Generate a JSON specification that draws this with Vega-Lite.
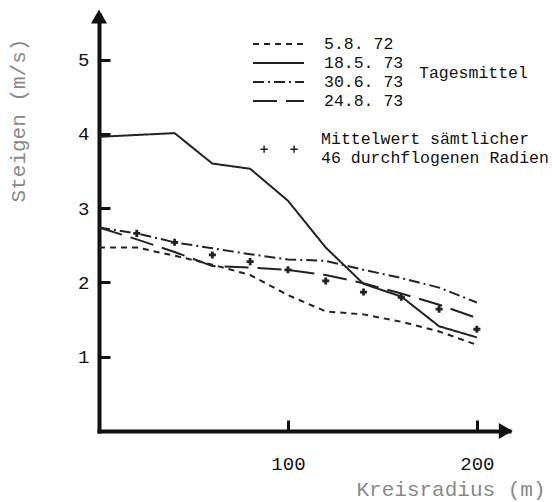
{
  "$schema": "https://vega.github.io/schema/vega-lite/v6.json",
  "width": 410,
  "height": 416,
  "autosize": "none",
  "padding": {"left": 99, "top": 15, "right": 43, "bottom": 71},
  "background": "white",
  "config": {
    "view": {"stroke": null},
    "font": "Liberation Mono",
    "axis": {
      "grid": false,
      "domainColor": "#111",
      "domainWidth": 4,
      "domainCap": "square",
      "tickColor": "#111",
      "tickWidth": 3,
      "labelFont": "Liberation Mono",
      "labelFontSize": 19,
      "labelColor": "#111",
      "titleFont": "Liberation Mono",
      "titleFontSize": 21,
      "titleColor": "#888",
      "titleFontWeight": "normal"
    },
    "legend": {
      "labelFont": "Liberation Mono",
      "titleFont": "Liberation Mono"
    }
  },
  "datasets": {
    "lines": [
      {"series": "5.8. 72", "r": 0, "v": 2.47},
      {"series": "5.8. 72", "r": 20, "v": 2.47},
      {"series": "5.8. 72", "r": 40, "v": 2.36},
      {"series": "5.8. 72", "r": 60, "v": 2.24},
      {"series": "5.8. 72", "r": 80, "v": 2.1},
      {"series": "5.8. 72", "r": 100, "v": 1.83},
      {"series": "5.8. 72", "r": 120, "v": 1.61},
      {"series": "5.8. 72", "r": 140, "v": 1.57},
      {"series": "5.8. 72", "r": 160, "v": 1.47},
      {"series": "5.8. 72", "r": 180, "v": 1.34},
      {"series": "5.8. 72", "r": 200, "v": 1.16},
      {"series": "18.5. 73", "r": 0, "v": 3.96},
      {"series": "18.5. 73", "r": 40, "v": 4.01},
      {"series": "18.5. 73", "r": 60, "v": 3.6},
      {"series": "18.5. 73", "r": 80, "v": 3.53},
      {"series": "18.5. 73", "r": 100, "v": 3.1},
      {"series": "18.5. 73", "r": 120, "v": 2.47},
      {"series": "18.5. 73", "r": 140, "v": 1.98},
      {"series": "18.5. 73", "r": 160, "v": 1.81},
      {"series": "18.5. 73", "r": 180, "v": 1.41},
      {"series": "18.5. 73", "r": 200, "v": 1.26},
      {"series": "30.6. 73", "r": 0, "v": 2.74},
      {"series": "30.6. 73", "r": 20, "v": 2.66},
      {"series": "30.6. 73", "r": 40, "v": 2.54},
      {"series": "30.6. 73", "r": 60, "v": 2.46},
      {"series": "30.6. 73", "r": 80, "v": 2.38},
      {"series": "30.6. 73", "r": 100, "v": 2.31},
      {"series": "30.6. 73", "r": 120, "v": 2.29},
      {"series": "30.6. 73", "r": 140, "v": 2.17},
      {"series": "30.6. 73", "r": 160, "v": 2.06},
      {"series": "30.6. 73", "r": 180, "v": 1.93},
      {"series": "30.6. 73", "r": 200, "v": 1.73},
      {"series": "24.8. 73", "r": 0, "v": 2.74},
      {"series": "24.8. 73", "r": 20, "v": 2.58},
      {"series": "24.8. 73", "r": 40, "v": 2.41},
      {"series": "24.8. 73", "r": 60, "v": 2.22},
      {"series": "24.8. 73", "r": 80, "v": 2.2},
      {"series": "24.8. 73", "r": 100, "v": 2.17},
      {"series": "24.8. 73", "r": 120, "v": 2.1},
      {"series": "24.8. 73", "r": 140, "v": 1.99},
      {"series": "24.8. 73", "r": 160, "v": 1.85},
      {"series": "24.8. 73", "r": 180, "v": 1.7},
      {"series": "24.8. 73", "r": 200, "v": 1.52}
    ],
    "means": [
      {"r": 20, "v": 2.66},
      {"r": 40, "v": 2.54},
      {"r": 60, "v": 2.37},
      {"r": 80, "v": 2.28},
      {"r": 100, "v": 2.17},
      {"r": 120, "v": 2.02},
      {"r": 140, "v": 1.87},
      {"r": 160, "v": 1.8},
      {"r": 180, "v": 1.64},
      {"r": 200, "v": 1.37}
    ]
  },
  "layer": [
    {
      "data": {"name": "lines"},
      "mark": {"type": "line", "color": "#222", "strokeWidth": 2},
      "encoding": {
        "x": {
          "field": "r", "type": "quantitative",
          "scale": {"domain": [0, 217], "nice": false},
          "axis": {
            "values": [100, 200],
            "format": "d",
            "tickSize": -11,
            "labelPadding": 34,
            "title": "Kreisradius (m)",
            "titleX": 446, "titleY": 58,
            "titleAlign": "right", "titleBaseline": "middle"
          }
        },
        "y": {
          "field": "v", "type": "quantitative",
          "scale": {"domain": [0, 5.6], "nice": false},
          "axis": {
            "values": [1, 2, 3, 4, 5],
            "format": "d",
            "tickSize": -11,
            "labelPadding": 21,
            "title": "Steigen (m/s)",
            "titleX": -81, "titleY": 105,
            "titleAngle": -90,
            "titleAlign": "center", "titleBaseline": "middle"
          }
        },
        "strokeDash": {
          "field": "series", "type": "nominal",
          "scale": {
            "domain": ["5.8. 72", "18.5. 73", "30.6. 73", "24.8. 73"],
            "range": [[6, 5], [1, 0], [11, 4, 2, 4], [24, 9]]
          },
          "legend": {
            "orient": "none", "legendX": 153, "legendY": 19.5,
            "title": "Tagesmittel",
            "titleOrient": "right", "titlePadding": 16,
            "titleFontSize": 16.5, "titleFontWeight": "normal", "titleColor": "#111",
            "titleAnchor": "middle", "titleBaseline": "middle",
            "labelFontSize": 16.5, "labelColor": "#111", "labelOffset": 19,
            "symbolType": "stroke", "symbolSize": 2601, "symbolStrokeWidth": 2,
            "symbolStrokeColor": "#222",
            "clipHeight": 19, "rowPadding": 0, "padding": 0,
            "labelExpr": "datum.label == '5.8. 72' ? '\u00a05.8. 72' : datum.label"
          }
        }
      }
    },
    {
      "data": {"name": "means"},
      "mark": {"type": "point", "shape": "cross", "filled": true, "color": "#222", "size": 50, "opacity": 1},
      "encoding": {
        "x": {"field": "r", "type": "quantitative"},
        "y": {"field": "v", "type": "quantitative"}
      }
    },
    {
      "data": {"values": [{}]},
      "mark": {"type": "point", "filled": false, "color": "#222", "strokeWidth": 1.5, "size": 0, "opacity": 1},
      "encoding": {
        "x": {"datum": 0},
        "y": {"datum": 0},
        "shape": {
          "datum": "Mittelwert", "type": "nominal",
          "scale": {"range": ["M-0.87,0.47H-0.53M-0.7,0.3V0.64M0.53,0.47H0.87M0.7,0.3V0.64"]},
          "legend": {
            "orient": "none", "legendX": 157.6, "legendY": 101.6,
            "title": null,
            "labelExpr": "['Mittelwert sämtlicher', '46 durchflogenen Radien']",
            "labelFontSize": 16.5, "labelColor": "#111", "labelLimit": 400,
            "labelOffset": 19.5, "symbolSize": 1837, "padding": 0,
            "symbolFillColor": "transparent", "symbolStrokeColor": "#222",
            "symbolStrokeWidth": 1.5, "symbolOpacity": 1
          }
        }
      }
    },
    {
      "data": {"values": [{}]},
      "mark": {"type": "point", "shape": "triangle-right", "filled": true, "color": "#111", "size": 260, "opacity": 1},
      "encoding": {"x": {"datum": 215.3}, "y": {"datum": 0}}
    },
    {
      "data": {"values": [{}]},
      "mark": {"type": "point", "shape": "triangle-up", "filled": true, "color": "#111", "size": 260, "opacity": 1},
      "encoding": {"x": {"datum": 0}, "y": {"datum": 5.58}}
    }
  ]
}
